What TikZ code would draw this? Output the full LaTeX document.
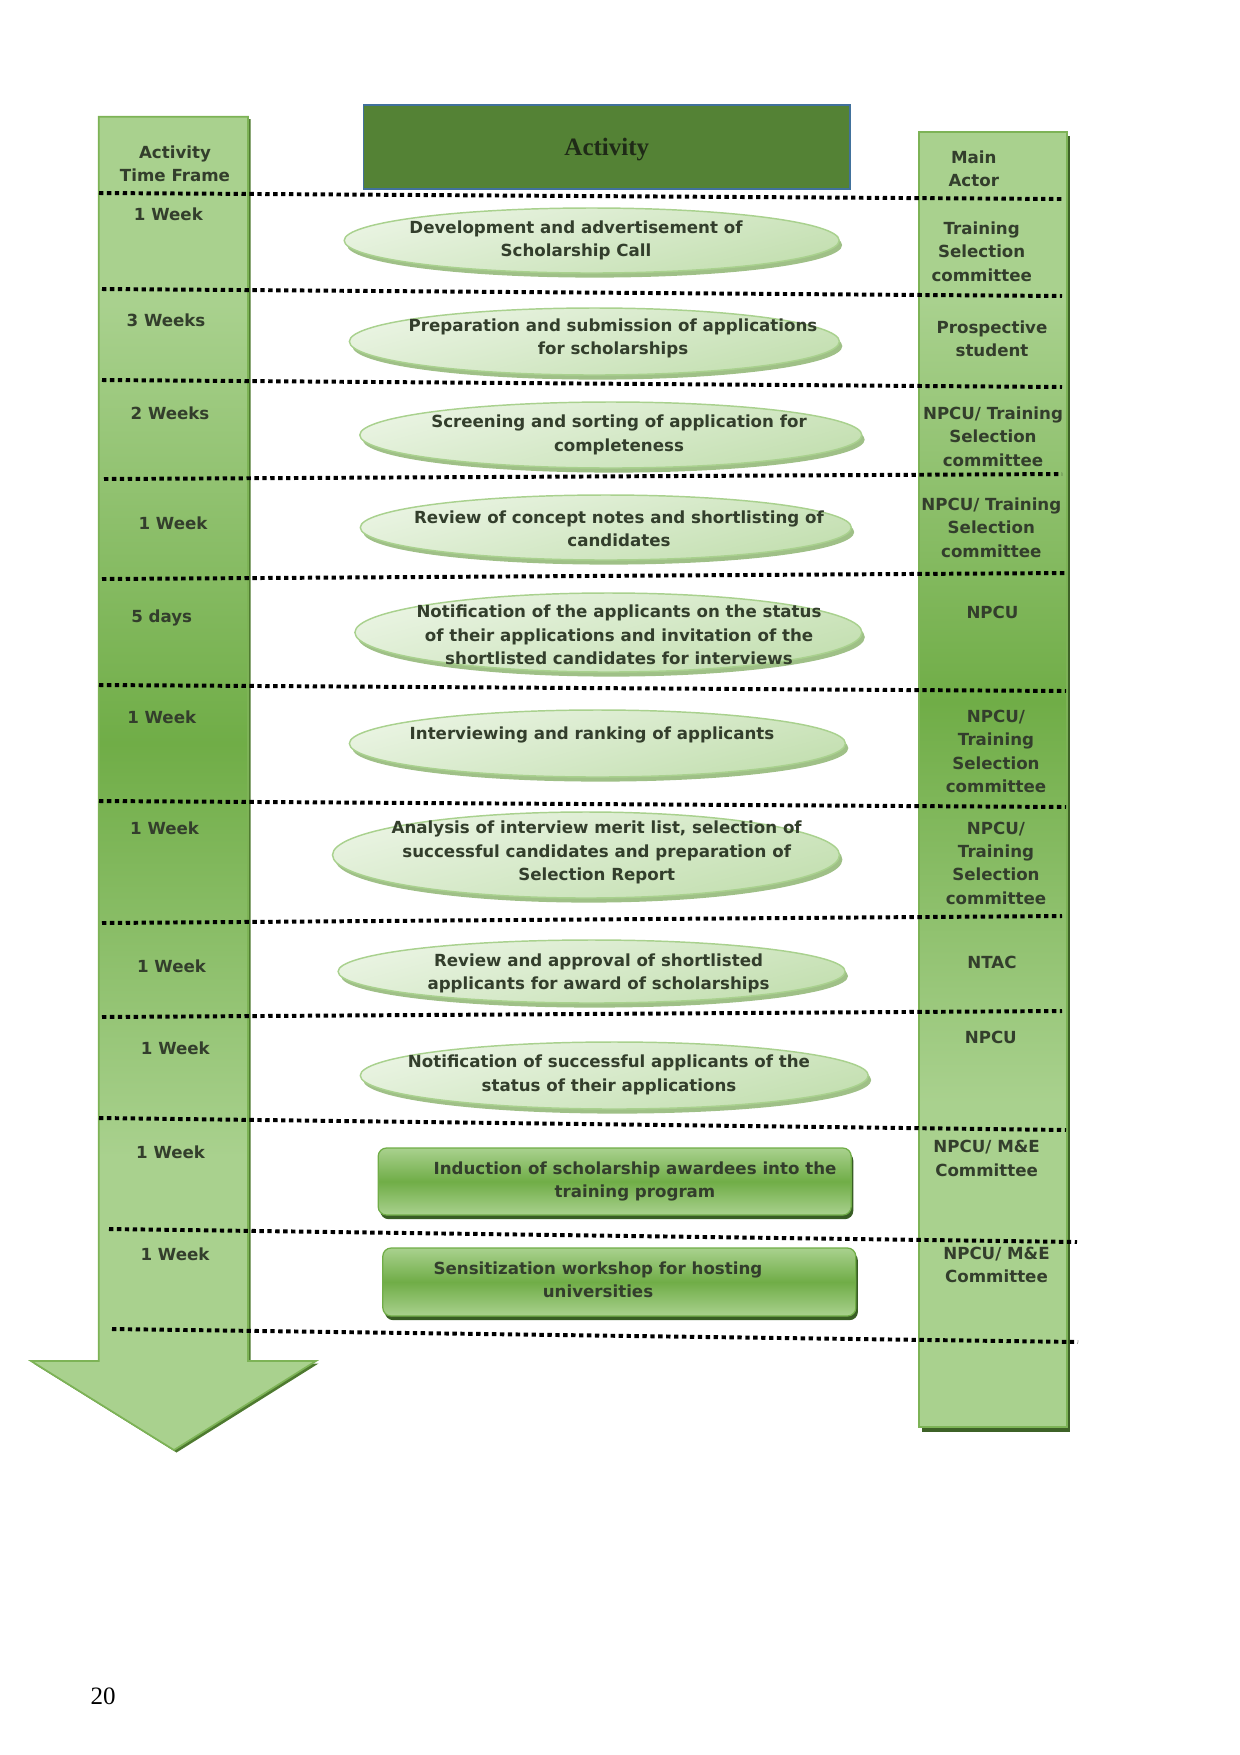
\documentclass[tikz,border=0pt]{standalone}
\usepackage{fontspec}
\setmainfont{DejaVu Sans}
\newfontfamily\serifbf{Liberation Serif}
\usetikzlibrary{shapes.geometric,shadows}
\definecolor{colLight}{HTML}{A9D18E}
\definecolor{colDark}{HTML}{70AD47}
\definecolor{colEdge}{HTML}{7DB356}
\definecolor{colShadow}{HTML}{4E7A30}
\definecolor{hdrFill}{HTML}{548235}
\definecolor{hdrEdge}{HTML}{41719C}
\definecolor{ellTop}{HTML}{EAF4E3}
\definecolor{ellBot}{HTML}{C3DFB0}
\definecolor{ellEdge}{HTML}{A9D18E}
\definecolor{ellShadow}{HTML}{9FC087}
\definecolor{rectShadow}{HTML}{385D24}
\definecolor{txt}{HTML}{333E2C}
\definecolor{hdrTxt}{HTML}{1F2A17}
\pgfdeclareverticalshading{leftcol}{100bp}{color(0bp)=(colLight); color(36bp)=(colLight); color(51.5bp)=(colDark); color(68bp)=(colLight); color(100bp)=(colLight)}
\pgfdeclareverticalshading{rightcol}{100bp}{color(0bp)=(colLight); color(37.5bp)=(colLight); color(53bp)=(colDark); color(68.5bp)=(colLight); color(100bp)=(colLight)}
\begin{document}
\begin{tikzpicture}[x=0.48pt,y=-0.48pt,
  every node/.style={inner sep=0pt, outer sep=0pt},
  lbl/.style={font=\fontsize{8}{11.2}\selectfont\bfseries, text=txt, align=center},
  actell/.style={ellipse, draw=ellEdge, line width=0.7pt, top color=ellTop, bottom color=ellBot, shading angle=15,
     drop shadow={shadow xshift=1.4pt, shadow yshift=-2.2pt, fill=ellShadow, opacity=1}},
  actrect/.style={rectangle, rounded corners=4pt, draw=colDark, line width=0.6pt,
     top color=colLight, bottom color=colLight, middle color=colDark,
     drop shadow={shadow xshift=1pt, shadow yshift=-2pt, fill=rectShadow, opacity=1}},
  dotline/.style={line width=1.9pt, dash pattern=on 2.1pt off 1.7pt, black},
]
\useasboundingbox (0,0) rectangle (1240,1755);

% left time arrow
\begin{scope}[shift={(2.5,2.5)}]
\fill[colShadow] (98.8,116.7) -- (248,116.7) -- (248,1361) -- (316,1361) -- (174,1450) -- (31,1361) -- (98.8,1361) -- cycle;
\end{scope}
\path[shade, shading=leftcol, draw=colEdge, line width=0.8pt]
  (98.8,116.7) -- (248,116.7) -- (248,1361) -- (316,1361) -- (174,1450) -- (31,1361) -- (98.8,1361) -- cycle;

% right actor column
\fill[colShadow!80!black] (922,136) rectangle (1070,1432);
\path[shade, shading=rightcol, draw=colEdge, line width=1pt] (919,132) rectangle (1067,1427);

% header
\node[rectangle, fill=hdrFill, draw=hdrEdge, line width=0.7pt, minimum width=233.5pt, minimum height=40.3pt] (hdr) at (606.8,147) {};
\node[font=\serifbf\fontsize{12}{14}\selectfont\bfseries, text=hdrTxt] (hdrt) at (606.8,150) {Activity};

% activity shapes
\node[actell, minimum width=237.6pt, minimum height=31.2pt] (a1) at (591.7,240.5) {};
\node[actell, minimum width=235.2pt, minimum height=32.16pt] (a2) at (594.4,341.5) {};
\node[actell, minimum width=240.96pt, minimum height=31.68pt] (a3) at (610.8,435) {};
\node[actell, minimum width=235.68pt, minimum height=31.2pt] (a4) at (605.8,527.5) {};
\node[actell, minimum width=243.36pt, minimum height=37.92pt] (a5) at (608.4,632.5) {};
\node[actell, minimum width=238.08pt, minimum height=32.16pt] (a6) at (597.4,743.5) {};
\node[actell, minimum width=243.36pt, minimum height=41.28pt] (a7) at (586,855) {};
\node[actell, minimum width=243.36pt, minimum height=30.24pt] (a8) at (591.6,971.5) {};
\node[actell, minimum width=243.84pt, minimum height=32.16pt] (a9) at (614.3,1075.5) {};
\node[actrect, minimum width=227.04pt, minimum height=32.16pt] (a10) at (614.7,1181.5) {};
\node[actrect, minimum width=227.04pt, minimum height=32.64pt] (a11) at (619.3,1282) {};

% dotted separators
\coordinate (l1a) at (99,193);   \coordinate (l1b) at (1062,199);
\coordinate (l2a) at (102,289);  \coordinate (l2b) at (1062,296);
\coordinate (l3a) at (102,380);  \coordinate (l3b) at (1062,387);
\coordinate (l4a) at (104,479);  \coordinate (l4b) at (1062,474);
\coordinate (l5a) at (102,579);  \coordinate (l5b) at (1066,573);
\coordinate (l6a) at (99,685);   \coordinate (l6b) at (1066,691);
\coordinate (l7a) at (99,801);   \coordinate (l7b) at (1066,807);
\coordinate (l8a) at (102,923);  \coordinate (l8b) at (1062,916);
\coordinate (l9a) at (102,1017); \coordinate (l9b) at (1062,1011);
\coordinate (l10a) at (99,1118); \coordinate (l10b) at (1066,1130);
\coordinate (l11a) at (109,1229); \coordinate (l11b) at (1077,1242);
\coordinate (l12a) at (112,1329); \coordinate (l12b) at (1078,1342);
\foreach \i in {1,...,12} { \draw[dotline] (l\i a) -- (l\i b); }

% activity texts
\node[lbl] (t1) at (576,240.5) {Development and advertisement of\\Scholarship Call};
\node[lbl] (t2) at (613,338.5) {Preparation and submission of applications\\for scholarships};
\node[lbl] (t3) at (619,435) {Screening and sorting of application for\\completeness};
\node[lbl] (t4) at (619,528.5) {Review of concept notes and shortlisting of\\candidates};
\node[lbl] (t5) at (619,635) {Notification of the applicants on the status\\of their applications and invitation of the\\shortlisted candidates for interviews};
\node[lbl] (t6) at (592,735) {Interviewing and ranking of applicants};
\node[lbl] (t7) at (596.7,852.5) {Analysis of interview merit list, selection of\\successful candidates and preparation of\\Selection Report};
\node[lbl] (t8) at (598.5,973.5) {Review and approval of shortlisted\\applicants for award of scholarships};
\node[lbl] (t9) at (609,1075) {Notification of successful applicants of the\\status of their applications};
\node[lbl] (t10) at (635,1181.5) {Induction of scholarship awardees into the\\training program};
\node[lbl] (t11) at (598,1280) {Sensitization workshop for hosting\\universities};

% time frame labels
\node[lbl] (h1) at (175,163.5) {Activity\\Time Frame};
\node[lbl] (d1) at (168.4,214) {1 Week};
\node[lbl] (d2) at (166,320) {3 Weeks};
\node[lbl] (d3) at (170,413) {2 Weeks};
\node[lbl] (d4) at (173,523) {1 Week};
\node[lbl] (d5) at (161.7,618) {5 days};
\node[lbl] (d6) at (161.7,717) {1 Week};
\node[lbl] (d7) at (164.6,828) {1 Week};
\node[lbl] (d8) at (171.5,966) {1 Week};
\node[lbl] (d9) at (175.3,1048) {1 Week};
\node[lbl] (d10) at (170.6,1152) {1 Week};
\node[lbl] (d11) at (175,1254) {1 Week};

% main actor labels
\node[lbl] (h2) at (973.8,168.5) {Main\\Actor};
\node[lbl] (m1) at (981.7,251.5) {Training\\Selection\\committee};
\node[lbl] (m2) at (992,338.5) {Prospective\\student};
\node[lbl] (m3) at (993,436.5) {NPCU/ Training\\Selection\\committee};
\node[lbl] (m4) at (991.3,527.5) {NPCU/ Training\\Selection\\committee};
\node[lbl] (m5) at (992.5,612) {NPCU};
\node[lbl] (m6) at (996,751.5) {NPCU/\\Training\\Selection\\committee};
\node[lbl] (m7) at (996,863) {NPCU/\\Training\\Selection\\committee};
\node[lbl] (m8) at (992,962) {NTAC};
\node[lbl] (m9) at (990.8,1037) {NPCU};
\node[lbl] (m10) at (986.6,1158.5) {NPCU/ M\&E\\Committee};
\node[lbl] (m11) at (996.5,1265) {NPCU/ M\&E\\Committee};

% page number
\node[font=\serifbf\fontsize{12}{14}\selectfont, text=black] (pg) at (103,1696) {20};
\end{tikzpicture}
\end{document}
